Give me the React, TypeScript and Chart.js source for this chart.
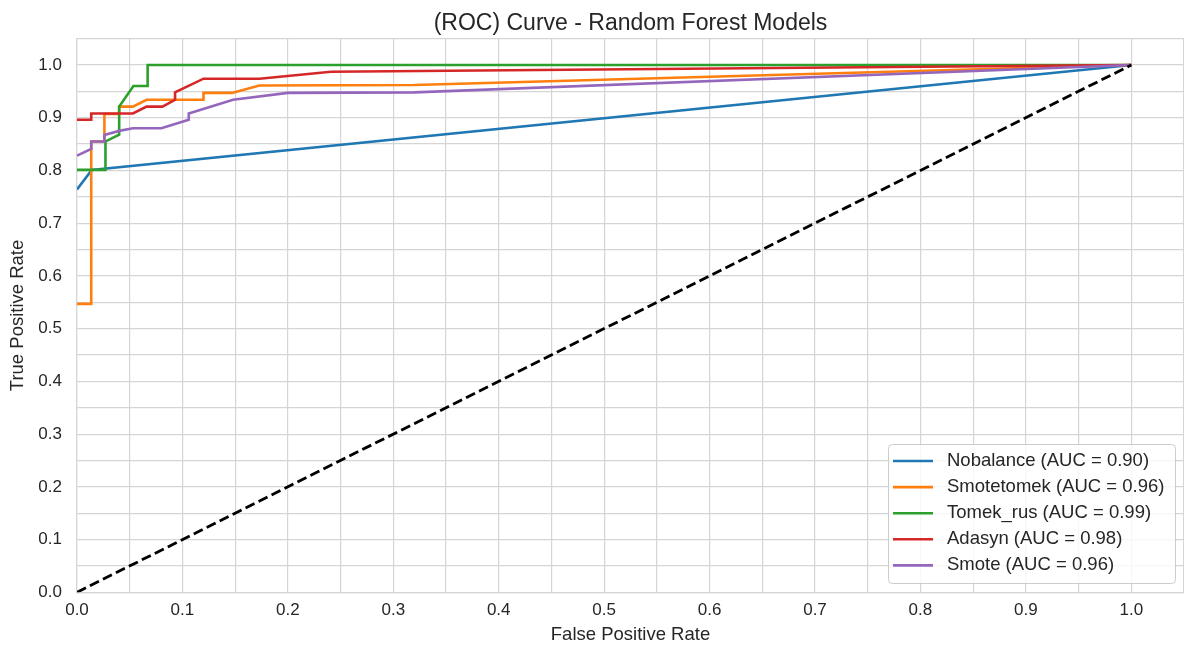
import React, { useEffect, useRef } from "react";
import { Chart, registerables } from "chart.js";

Chart.register(...registerables);

const seriesNames = ["Nobalance", "Smotetomek", "Tomek_rus", "Adasyn", "Smote"];
const aucValues = [0.9, 0.96, 0.99, 0.98, 0.96];
const seriesColors = ["#1f77b4", "#ff7f0e", "#2ca02c", "#d62728", "#9467bd"];

const nobalanceFpr = [0, 0.014, 1];
const nobalanceTpr = [0.764, 0.801, 1];

const smotetomekFpr = [0, 0.0135, 0.0135, 0.026, 0.026, 0.04, 0.04, 0.053, 0.066, 0.12, 0.12, 0.147, 0.173, 0.32, 1];
const smotetomekTpr = [0.547, 0.547, 0.855, 0.855, 0.907, 0.907, 0.921, 0.921, 0.934, 0.934, 0.947, 0.947, 0.961, 0.962, 1];

const tomekFpr = [0, 0.027, 0.027, 0.04, 0.04, 0.0535, 0.067, 0.067, 1];
const tomekTpr = [0.801, 0.801, 0.855, 0.868, 0.921, 0.96, 0.96, 1, 1];

const adasynFpr = [0, 0.0135, 0.0135, 0.053, 0.066, 0.081, 0.093, 0.093, 0.12, 0.173, 0.241, 1];
const adasynTpr = [0.896, 0.896, 0.908, 0.908, 0.921, 0.921, 0.934, 0.948, 0.974, 0.974, 0.987, 1];

const smoteFpr = [0, 0.0135, 0.0135, 0.026, 0.026, 0.04, 0.053, 0.08, 0.106, 0.106, 0.148, 0.2, 0.32, 1];
const smoteTpr = [0.828, 0.841, 0.855, 0.855, 0.867, 0.875, 0.88, 0.88, 0.896, 0.908, 0.934, 0.947, 0.948, 1];

const diagX = [0, 1];
const diagY = [0, 1];

const fprSets = [nobalanceFpr, smotetomekFpr, tomekFpr, adasynFpr, smoteFpr];
const tprSets = [nobalanceTpr, smotetomekTpr, tomekTpr, adasynTpr, smoteTpr];

const FONT = "'Liberation Sans', Arial, Helvetica, sans-serif";
const TEXT = "#262626";
const GRID = "#d5d5d5";

const toPts = (xs: number[], ys: number[]) => xs.map((x, i) => ({ x, y: ys[i] }));

const tickLabel = (v: number | string) => {
  const n = Number(v);
  const k = Math.round(n * 20);
  if (k % 2 === 0 && k <= 20) return (k / 20).toFixed(1);
  return "";
};

const legendPlugin = {
  id: "insideLegend",
  afterDraw(chart: any) {
    const ctx = chart.ctx;
    const x0 = 888.5, y0 = 444.5, w = 287, h = 139, r = 4;
    ctx.save();
    ctx.beginPath();
    ctx.moveTo(x0 + r, y0);
    ctx.lineTo(x0 + w - r, y0);
    ctx.quadraticCurveTo(x0 + w, y0, x0 + w, y0 + r);
    ctx.lineTo(x0 + w, y0 + h - r);
    ctx.quadraticCurveTo(x0 + w, y0 + h, x0 + w - r, y0 + h);
    ctx.lineTo(x0 + r, y0 + h);
    ctx.quadraticCurveTo(x0, y0 + h, x0, y0 + h - r);
    ctx.lineTo(x0, y0 + r);
    ctx.quadraticCurveTo(x0, y0, x0 + r, y0);
    ctx.closePath();
    ctx.fillStyle = "rgba(255,255,255,0.8)";
    ctx.fill();
    ctx.strokeStyle = "#cccccc";
    ctx.lineWidth = 1;
    ctx.stroke();
    ctx.font = `18.5px ${FONT}`;
    ctx.textBaseline = "middle";
    ctx.textAlign = "left";
    seriesNames.forEach((name, i) => {
      const y = 461 + i * 26.1;
      ctx.strokeStyle = seriesColors[i];
      ctx.lineWidth = 2.6;
      ctx.beginPath();
      ctx.moveTo(893, y);
      ctx.lineTo(933, y);
      ctx.stroke();
      ctx.fillStyle = TEXT;
      ctx.fillText(`${name} (AUC = ${aucValues[i].toFixed(2)})`, 947, y);
    });
    ctx.restore();
  },
};

export default function App() {
  const ref = useRef<HTMLCanvasElement | null>(null);
  useEffect(() => {
    if (!ref.current) return;
    const datasets: any[] = seriesNames.map((name, i) => ({
      label: name,
      data: toPts(fprSets[i], tprSets[i]),
      borderColor: seriesColors[i],
      backgroundColor: seriesColors[i],
      borderWidth: 2.6,
      pointRadius: 0,
      tension: 0,
      fill: false,
      order: 10 - i,
    }));
    datasets.push({
      label: "diag",
      data: toPts(diagX, diagY),
      borderColor: "#000000",
      borderWidth: 2.8,
      borderDash: [10, 4.5],
      pointRadius: 0,
      fill: false,
      order: 0,
    });
    const chart = new Chart(ref.current, {
      type: "line",
      data: { datasets },
      options: {
        animation: false,
        responsive: false,
        devicePixelRatio: 1,
        layout: { padding: { left: 0, right: 0, top: 0, bottom: 0 }, autoPadding: false },
        plugins: {
          legend: { display: false },
          tooltip: { enabled: false },
          title: {
            display: true,
            text: "(ROC) Curve - Random Forest Models",
            fullSize: false,
            color: TEXT,
            font: { family: FONT, size: 23, weight: "normal" },
            padding: { top: 10, bottom: 1 },
          },
        },
        scales: {
          x: {
            type: "linear",
            min: 0,
            max: 1.05,
            afterFit: (s: any) => {
              s.height = 53.7;
              s.paddingLeft = 0;
              s.paddingRight = 0;
            },
            ticks: {
              stepSize: 0.05,
              autoSkip: false,
              maxRotation: 0,
              padding: 8,
              color: TEXT,
              font: { family: FONT, size: 17 },
              callback: tickLabel,
            },
            grid: { color: GRID, lineWidth: 1.2, drawTicks: false },
            border: { color: GRID, width: 1.2 },
            title: {
              display: true,
              text: "False Positive Rate",
              color: TEXT,
              font: { family: FONT, size: 18.5 },
              padding: { top: 0, bottom: 0 },
            },
          },
          y: {
            type: "linear",
            min: 0,
            max: 1.05,
            afterFit: (s: any) => {
              s.width = 77;
              s.paddingTop = 0;
              s.paddingBottom = 0;
            },
            ticks: {
              stepSize: 0.05,
              autoSkip: false,
              padding: 15,
              color: TEXT,
              font: { family: FONT, size: 17 },
              callback: tickLabel,
            },
            grid: { color: GRID, lineWidth: 1.2, drawTicks: false },
            border: { color: GRID, width: 1.2 },
            title: {
              display: true,
              text: "True Positive Rate",
              color: TEXT,
              font: { family: FONT, size: 18.5 },
              padding: { top: 7, bottom: 0 },
            },
          },
        },
      },
      plugins: [legendPlugin],
    });
    return () => chart.destroy();
  }, []);
  return (
    <div style={{ position: "fixed", left: 0, top: 0, width: 1184, height: 646, background: "#fff" }}>
      <canvas ref={ref} width={1184} height={646} style={{ display: "block" }} />
    </div>
  );
}
